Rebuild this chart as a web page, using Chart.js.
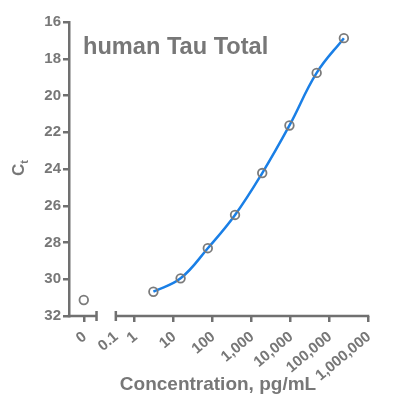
<!DOCTYPE html>
<html><head><meta charset="utf-8">
<script src="https://cdn.jsdelivr.net/npm/chart.js@4"></script>
<style>html,body{margin:0;padding:0;background:#fff}#wrap{width:415px;height:410px}</style>
</head><body><div id="wrap"><canvas id="c" width="415" height="410"></canvas></div>
<script>
// ---- data ----
const chartTitle = "human Tau Total";
const xTitle = "Concentration, pg/mL";
const concentrations = [0, 3.072, 15.36, 76.8, 384, 1920, 9600, 48000, 240000];
const ctValues = [31.13, 30.68, 29.95, 28.31, 26.5, 24.22, 21.63, 18.77, 16.88];
const tickConcentrations = [0, 0.1, 1, 10, 100, 1000, 10000, 100000, 1000000];
const tickLabels = ["0", "0.1", "1", "10", "100", "1,000", "10,000", "100,000", "1,000,000"];
const yTicks = [16, 18, 20, 22, 24, 26, 28, 30, 32];

// axis geometry (log10 units), with a break between the zero segment and the log segment
const zeroPos = -1.30, leftSegEnd = -0.96, rightSegStart = -0.49, xMin = -1.68, xMax = 6;
function pos(c) {
  if (c === 0) return zeroPos;
  if (c === 0.1) return rightSegStart;
  return Math.log10(c);
}
const pts = concentrations.map((c, i) => ({x: pos(c), y: ctValues[i]}));
const curvePts = pts.filter((p, i) => concentrations[i] > 0);
const tickPos = tickConcentrations.map(pos);

const GRAY = '#707070', TEXT = '#777777';
const FONT = 'Liberation Sans, Arial, sans-serif';

const deco = {
  id: 'deco',
  afterDraw(chart) {
    const ctx = chart.ctx, ca = chart.chartArea, xs = chart.scales.x;
    ctx.save();
    ctx.strokeStyle = GRAY; ctx.lineWidth = 2.5; ctx.lineCap = 'butt';
    const y = ca.bottom;
    const a = xs.getPixelForValue(leftSegEnd), b = xs.getPixelForValue(rightSegStart);
    ctx.beginPath();
    ctx.moveTo(ca.left - 1.25, y); ctx.lineTo(a, y);
    ctx.moveTo(b, y); ctx.lineTo(xs.getPixelForValue(xMax) + 1.25, y);
    // break caps
    ctx.moveTo(a - 0.5, y - 5); ctx.lineTo(a - 0.5, y + 5);
    ctx.moveTo(b + 0.5, y - 5); ctx.lineTo(b + 0.5, y + 5);
    ctx.stroke();
    // chart title
    ctx.fillStyle = TEXT;
    ctx.font = 'bold 23.6px ' + FONT;
    ctx.textBaseline = 'alphabetic'; ctx.textAlign = 'left';
    ctx.fillText(chartTitle, ca.left + 14, ca.top + 32);
    // x title
    ctx.font = 'bold 19px ' + FONT;
    ctx.textAlign = 'center';
    ctx.fillText(xTitle, 218, 390);
    // y title C with subscript t
    ctx.translate(24, 170);
    ctx.rotate(-Math.PI / 2);
    ctx.textAlign = 'left';
    ctx.font = 'bold 17px ' + FONT;
    ctx.fillText('C', -6, 0);
    const w = ctx.measureText('C').width;
    ctx.font = 'bold 11px ' + FONT;
    ctx.fillText('t', -6 + w, 4);
    ctx.restore();
  }
};

new Chart(document.getElementById('c'), {
  type: 'scatter',
  data: {
    datasets: [
      {
        type: 'line', data: curvePts, borderColor: '#1a7fe6', borderWidth: 2.5,
        pointRadius: 0, fill: false, tension: 0.4, order: 2
      },
      {
        data: pts, pointRadius: 4.3, pointBorderWidth: 1.8,
        pointBorderColor: '#7b7b7b', pointBackgroundColor: 'rgba(0,0,0,0)', order: 1
      }
    ]
  },
  plugins: [deco],
  options: {
    responsive: false, animation: false,
    layout: {padding: {top: 22, right: 47, left: 0, bottom: 0}},
    plugins: {legend: {display: false}, tooltip: {enabled: false}},
    scales: {
      x: {
        type: 'linear', min: xMin, max: xMax,
        afterBuildTicks: (s) => { s.ticks = tickPos.map(v => ({value: v})); },
        afterFit: (s) => { s.height = 94; },
        border: {display: false},
        grid: {
          display: true, drawOnChartArea: false, drawTicks: true, tickLength: 6, lineWidth: 2.5,
          color: (c) => (c.index === 1 ? 'rgba(0,0,0,0)' : GRAY)
        },
        ticks: {
          autoSkip: false, minRotation: 40, maxRotation: 40, padding: 6, labelOffset: 1,
          color: TEXT, font: {family: FONT, size: 15, weight: 'bold'},
          callback: (v, i) => tickLabels[i]
        }
      },
      y: {
        type: 'linear', min: 16, max: 32, reverse: true,
        afterBuildTicks: (s) => { s.ticks = yTicks.map(v => ({value: v})); },
        afterFit: (s) => { s.width = 69; },
        border: {display: true, color: GRAY, width: 2.5},
        grid: {display: true, drawOnChartArea: false, drawTicks: true, tickLength: 6, color: GRAY, lineWidth: 2.5},
        ticks: {padding: 2, color: TEXT, font: {family: FONT, size: 15, weight: 'bold'}}
      }
    }
  }
});
</script></body></html>
